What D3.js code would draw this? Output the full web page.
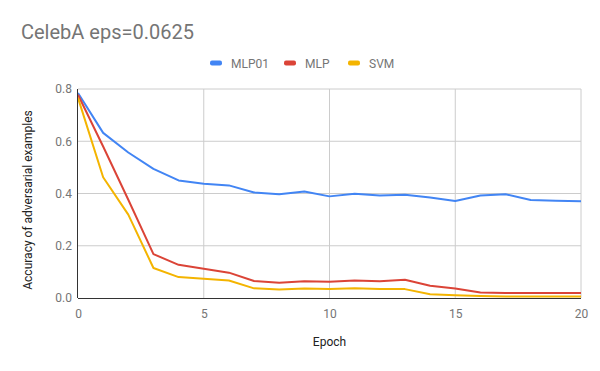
<!DOCTYPE html>
<html>
<head>
<meta charset="utf-8">
<script src="https://cdn.jsdelivr.net/npm/d3@7"></script>
<style>
  body { margin: 0; background: #fff; }
  text { font-family: Roboto, Arial, sans-serif; }
</style>
</head>
<body>
<script>
// Data
const epochs = d3.range(0, 21);
const mlp01 = [0.785, 0.632, 0.557, 0.494, 0.450, 0.437, 0.431, 0.404, 0.397, 0.408, 0.389,
  0.399, 0.392, 0.395, 0.385, 0.371, 0.392, 0.397, 0.375, 0.372, 0.370];
const mlp = [0.778, 0.580, 0.376, 0.168, 0.127, 0.112, 0.097, 0.065, 0.058, 0.064, 0.062,
  0.067, 0.064, 0.070, 0.047, 0.036, 0.021, 0.019, 0.019, 0.019, 0.019];
const svm = [0.766, 0.462, 0.319, 0.115, 0.080, 0.074, 0.067, 0.037, 0.033, 0.036, 0.034,
  0.037, 0.034, 0.034, 0.014, 0.011, 0.008, 0.006, 0.006, 0.006, 0.006];
const yTicks = [0, 0.2, 0.4, 0.6, 0.8];
const xTicks = [0, 5, 10, 15, 20];

const series = [
  { name: 'MLP01', values: mlp01, color: '#4285f4' },
  { name: 'MLP', values: mlp, color: '#db4437' },
  { name: 'SVM', values: svm, color: '#f4b400' }
];

const width = 600, height = 371;
const margin = { top: 89, right: 19, bottom: 73, left: 78 };

const svg = d3.select('body').append('svg')
  .attr('width', width)
  .attr('height', height);

const x = d3.scaleLinear().domain([0, 20]).range([margin.left, width - margin.right]);
const y = d3.scaleLinear().domain([0, 0.8]).range([height - margin.bottom, margin.top]);

// Title
svg.append('text')
  .attr('x', 21).attr('y', 39)
  .attr('font-size', '20px')
  .attr('fill', '#757575')
  .text('CelebA eps=0.0625');

// Gridlines
svg.append('g')
  .selectAll('line.h')
  .data(yTicks.filter(d => d > 0))
  .enter().append('line')
  .attr('x1', x(0)).attr('x2', x(20))
  .attr('y1', d => y(d)).attr('y2', d => y(d))
  .attr('stroke', '#cccccc').attr('stroke-width', 1);

svg.append('g')
  .selectAll('line.v')
  .data(xTicks.filter(d => d > 0))
  .enter().append('line')
  .attr('x1', d => x(d)).attr('x2', d => x(d))
  .attr('y1', y(0)).attr('y2', y(0.8))
  .attr('stroke', '#cccccc').attr('stroke-width', 1);

// Axes
const xAxis = svg.append('g')
  .attr('transform', `translate(0,${y(0)})`)
  .call(d3.axisBottom(x).tickValues(xTicks).tickSize(0).tickPadding(11));
xAxis.select('.domain').remove();
xAxis.selectAll('text').attr('font-size', '12px').attr('fill', '#757575')
  .attr('font-family', 'Roboto, Arial, sans-serif');

const yAxis = svg.append('g')
  .attr('transform', `translate(${x(0)},0)`)
  .call(d3.axisLeft(y).tickValues(yTicks).tickFormat(d3.format('.1f')).tickSize(0).tickPadding(6));
yAxis.select('.domain').remove();
yAxis.selectAll('text').attr('font-size', '12px').attr('fill', '#757575')
  .attr('font-family', 'Roboto, Arial, sans-serif');

// Lines
const line = d3.line()
  .x((d, i) => x(epochs[i]))
  .y(d => y(d));

svg.append('g')
  .selectAll('path')
  .data(series)
  .enter().append('path')
  .attr('d', d => line(d.values))
  .attr('fill', 'none')
  .attr('stroke', d => d.color)
  .attr('stroke-width', 2)
  .attr('stroke-linejoin', 'round');

// Baseline and left axis line
svg.append('line')
  .attr('x1', x(0)).attr('x2', x(20))
  .attr('y1', y(0) + 0.5).attr('y2', y(0) + 0.5)
  .attr('stroke', '#333').attr('stroke-width', 1);
svg.append('line')
  .attr('x1', x(0) - 0.5).attr('x2', x(0) - 0.5)
  .attr('y1', y(0)).attr('y2', y(0.8))
  .attr('stroke', '#333').attr('stroke-width', 1);

// Axis titles
svg.append('text')
  .attr('x', x(10)).attr('y', 346)
  .attr('text-anchor', 'middle')
  .attr('font-size', '12px')
  .attr('fill', '#222')
  .text('Epoch');

svg.append('text')
  .attr('transform', 'translate(32,200) rotate(-90)')
  .attr('text-anchor', 'middle')
  .attr('font-size', '12px')
  .attr('fill', '#222')
  .text('Accuracy of adversarial examples');

// Legend
const legendX = [210, 284, 348];
const legend = svg.append('g')
  .selectAll('g')
  .data(series)
  .enter().append('g')
  .attr('transform', (d, i) => `translate(${legendX[i]},63)`);
legend.append('rect')
  .attr('x', 0).attr('y', -2.5)
  .attr('width', 12).attr('height', 5)
  .attr('rx', 2)
  .attr('fill', d => d.color);
legend.append('text')
  .attr('x', 21).attr('y', 4.5)
  .attr('font-size', '12px')
  .attr('fill', '#757575')
  .text(d => d.name);
</script>
</body>
</html>
